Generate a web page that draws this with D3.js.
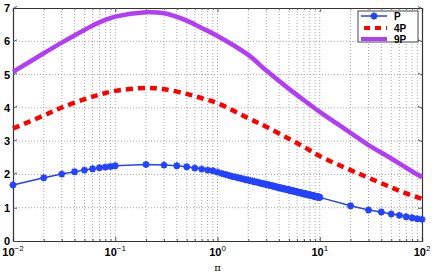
<!DOCTYPE html>
<html>
<head>
<meta charset="utf-8">
<script src="https://cdn.jsdelivr.net/npm/d3@7"></script>
<style>
  body { margin: 0; background: #fff; }
  svg text { font-family: "Liberation Sans", Arial, sans-serif; }
</style>
</head>
<body>
<div class="graph"></div>
<script>
/*--------------- DATA -------------*/

// P series (asterisk markers), x = pi
const xP = [0.01, 0.02, 0.03, 0.04, 0.05, 0.06, 0.07, 0.08, 0.09, 0.1,
  0.2, 0.3, 0.4, 0.5, 0.6, 0.7, 0.8, 0.9,
  1.0, 1.1, 1.2, 1.3, 1.4, 1.5, 1.6, 1.7, 1.8, 1.9,
  2.0, 2.1, 2.2, 2.3, 2.4, 2.5, 2.6, 2.7, 2.8, 2.9,
  3.0, 3.1, 3.2, 3.3, 3.4, 3.5, 3.6, 3.7, 3.8, 3.9,
  4.0, 4.1, 4.2, 4.3, 4.4, 4.5, 4.6, 4.7, 4.8, 4.9,
  5.0, 5.1, 5.2, 5.3, 5.4, 5.5, 5.6, 5.7, 5.8, 5.9,
  6.0, 6.1, 6.2, 6.3, 6.4, 6.5, 6.6, 6.7, 6.8, 6.9,
  7.0, 7.1, 7.2, 7.3, 7.4, 7.5, 7.6, 7.7, 7.8, 7.9,
  8.0, 8.1, 8.2, 8.3, 8.4, 8.5, 8.6, 8.7, 8.8, 8.9,
  9.0, 9.1, 9.2, 9.3, 9.4, 9.5, 9.6, 9.7, 9.8, 9.9,
  10, 20, 30, 40, 50, 60, 70, 80, 90, 100];
const yP = [1.68, 1.90, 2.01, 2.08, 2.13, 2.17, 2.20, 2.22, 2.24, 2.26,
  2.30, 2.28, 2.26, 2.23, 2.19, 2.16, 2.13, 2.11,
  2.07, 2.03, 2.00, 1.97, 1.94, 1.92, 1.90, 1.88, 1.86, 1.84,
  1.83, 1.81, 1.80, 1.78, 1.77, 1.76, 1.74, 1.73, 1.72, 1.71,
  1.70, 1.69, 1.68, 1.67, 1.66, 1.65, 1.64, 1.63, 1.62, 1.61,
  1.60, 1.60, 1.59, 1.58, 1.57, 1.57, 1.56, 1.55, 1.55, 1.54,
  1.53, 1.53, 1.52, 1.51, 1.51, 1.50, 1.50, 1.49, 1.49, 1.48,
  1.47, 1.47, 1.46, 1.46, 1.45, 1.45, 1.44, 1.44, 1.43, 1.43,
  1.42, 1.42, 1.42, 1.41, 1.41, 1.40, 1.40, 1.39, 1.39, 1.39,
  1.38, 1.38, 1.37, 1.37, 1.37, 1.36, 1.36, 1.35, 1.35, 1.35,
  1.34, 1.34, 1.34, 1.33, 1.33, 1.33, 1.32, 1.32, 1.32, 1.31,
  1.31, 1.06, 0.93, 0.87, 0.81, 0.77, 0.73, 0.70, 0.67, 0.65];

// 4P and 9P series (smooth lines)
const xLine = [0.01, 0.02, 0.03, 0.05, 0.07, 0.1, 0.2, 0.3, 0.5, 0.7,
  1, 2, 3, 5, 7, 10, 20, 30, 50, 70, 100];
const y4P = [3.38, 3.77, 4.01, 4.26, 4.40, 4.51, 4.60, 4.56, 4.42, 4.29,
  4.14, 3.69, 3.43, 3.07, 2.83, 2.55, 2.13, 1.90, 1.61, 1.43, 1.27];
const y9P = [5.08, 5.64, 5.96, 6.34, 6.57, 6.74, 6.87, 6.84, 6.62, 6.40,
  6.16, 5.59, 5.12, 4.57, 4.23, 3.88, 3.25, 2.88, 2.48, 2.20, 1.91];

const legendLabels = ["P", "4P", "9P"];
const yTicks = [0, 1, 2, 3, 4, 5, 6, 7];
const xDecades = [-2, -1, 0, 1, 2];

/*--------------- D3 STUFF -------------*/

const SIZE = {X: 436, Y: 273};
const MARGIN = {TOP: 8, BOTTOM: 32, LEFT: 13, RIGHT: 14};
const DIM = {WIDTH: SIZE.X - MARGIN.LEFT - MARGIN.RIGHT,
             HEIGHT: SIZE.Y - MARGIN.TOP - MARGIN.BOTTOM};

const COLORS = {P: "#2343ff", P4: "#ff0000", P9: "#b33cf7"};

const svg = d3.select(".graph").append("svg")
    .attr("width", SIZE.X)
    .attr("height", SIZE.Y);

const graph = svg.append("g")
    .attr("transform", `translate(${MARGIN.LEFT}, ${MARGIN.TOP})`);

const x = d3.scaleLog().domain([0.01, 100]).range([0, DIM.WIDTH]);
const y = d3.scaleLinear().domain([0, 7]).range([DIM.HEIGHT, 0]);

// all log ticks (1..9 per decade)
const xMinor = [];
xDecades.slice(0, -1).forEach(e => {
    for (let k = 1; k <= 9; k++) xMinor.push(k * Math.pow(10, e));
});
xMinor.push(100);

//grid lines
graph.append("g")
    .selectAll("line")
    .data(xMinor.filter(v => v > 0.01 && v < 100))
    .enter().append("line")
    .attr("x1", d => x(d)).attr("x2", d => x(d))
    .attr("y1", 0).attr("y2", DIM.HEIGHT)
    .attr("stroke", "#a8a8a8")
    .attr("stroke-width", 1)
    .attr("stroke-dasharray", "1,2");

graph.append("g")
    .selectAll("line")
    .data(yTicks.filter(v => v > 0 && v < 7))
    .enter().append("line")
    .attr("x1", 0).attr("x2", DIM.WIDTH)
    .attr("y1", d => y(d)).attr("y2", d => y(d))
    .attr("stroke", "#a8a8a8")
    .attr("stroke-width", 1)
    .attr("stroke-dasharray", "1,2");

//axes with inward ticks
const xAxisCall = d3.axisBottom(x).tickValues(xMinor).tickSize(-4).tickFormat("");
const xAxisTop = d3.axisTop(x).tickValues(xMinor).tickSize(-4).tickFormat("");
const yAxisCall = d3.axisLeft(y).tickValues(yTicks).tickSize(-4).tickFormat("");
const yAxisRight = d3.axisRight(y).tickValues(yTicks).tickSize(-4).tickFormat("");

[graph.append("g").attr("transform", `translate(0, ${DIM.HEIGHT})`).call(xAxisCall),
 graph.append("g").call(xAxisTop),
 graph.append("g").call(yAxisCall),
 graph.append("g").attr("transform", `translate(${DIM.WIDTH}, 0)`).call(yAxisRight)]
    .forEach(a => {
        a.selectAll("path").attr("stroke", "#333").attr("stroke-width", 1.2);
        a.selectAll("line").attr("stroke", "#555");
    });

//minor ticks shorter
graph.selectAll(".tick line")
    .filter(function(d) { return xMinor.includes(d) && Math.abs(Math.log10(d) % 1) > 1e-6; })
    .attr("y2", function() { return +d3.select(this).attr("y2") > 0 ? 2 : -2; });

//tick labels
graph.append("g")
    .selectAll("text")
    .data(yTicks)
    .enter().append("text")
    .attr("x", -3)
    .attr("y", d => y(d) + 4)
    .attr("text-anchor", "end")
    .attr("font-size", 11)
    .attr("font-weight", "bold")
    .text(d => d);

const xLab = graph.append("g")
    .selectAll("text")
    .data(xDecades)
    .enter().append("text")
    .attr("x", d => x(Math.pow(10, d)))
    .attr("y", DIM.HEIGHT + 15)
    .attr("text-anchor", "middle")
    .attr("font-size", 11)
    .attr("font-weight", "bold");
xLab.append("tspan").text("10");
xLab.append("tspan")
    .attr("dy", -5)
    .attr("font-size", 8)
    .attr("font-weight", "normal")
    .text(d => d < 0 ? "\u2212" + Math.abs(d) : d);

//axis title
graph.append("text")
    .attr("x", x(1))
    .attr("y", DIM.HEIGHT + 30)
    .attr("text-anchor", "middle")
    .attr("font-size", 10)
    .style("font-family", "'DejaVu Serif', serif")
    .text("\u03c0");

//lines
const lineP = d3.line().x(d => x(d[0])).y(d => y(d[1]));
const lineSmooth = d3.line().x(d => x(d[0])).y(d => y(d[1])).curve(d3.curveCatmullRom.alpha(0.5));

const plot = graph.append("g");

plot.append("path")
    .datum(xLine.map((v, i) => [v, y9P[i]]))
    .attr("d", lineSmooth)
    .attr("fill", "none")
    .attr("stroke", COLORS.P9)
    .attr("stroke-width", 4.5);

plot.append("path")
    .datum(xLine.map((v, i) => [v, y4P[i]]))
    .attr("d", lineSmooth)
    .attr("fill", "none")
    .attr("stroke", COLORS.P4)
    .attr("stroke-width", 4.5)
    .attr("stroke-dasharray", "7,5");

const dataP = xP.map((v, i) => [v, yP[i]]);
plot.append("path")
    .datum(dataP)
    .attr("d", lineP)
    .attr("fill", "none")
    .attr("stroke", COLORS.P)
    .attr("stroke-width", 1.5);

const star = "M-3.5,0H3.5M0,-3.5V3.5M-2.5,-2.5L2.5,2.5M-2.5,2.5L2.5,-2.5";
plot.selectAll(".mk")
    .data(dataP)
    .enter().append("path")
    .attr("class", "mk")
    .attr("transform", d => `translate(${x(d[0])}, ${y(d[1])})`)
    .attr("d", star)
    .attr("stroke", COLORS.P)
    .attr("stroke-width", 2)
    .attr("fill", "none");

// Legend
const legend = svg.append("g").attr("transform", "translate(358, 11)");
legend.append("rect")
    .attr("width", 60).attr("height", 31)
    .attr("fill", "#fff")
    .attr("stroke", "#444")
    .attr("stroke-width", 1);

const legY = [5, 17, 28];
const legStyle = [
    {c: COLORS.P, w: 1.5, dash: null},
    {c: COLORS.P4, w: 4, dash: "6,5"},
    {c: COLORS.P9, w: 4, dash: null}];

legendLabels.forEach((lab, i) => {
    const s = legStyle[i];
    legend.append("line")
        .attr("x1", i === 1 ? 6 : 3).attr("x2", 29)
        .attr("y1", legY[i]).attr("y2", legY[i])
        .attr("stroke", s.c)
        .attr("stroke-width", s.w)
        .attr("stroke-dasharray", s.dash);
    if (i === 0) {
        legend.append("path")
            .attr("transform", `translate(16, ${legY[i]})`)
            .attr("d", star)
            .attr("stroke", s.c)
            .attr("stroke-width", 2);
    }
    legend.append("text")
        .attr("x", 36)
        .attr("y", legY[i] + 4)
        .attr("font-size", 10)
        .attr("font-weight", "bold")
        .text(lab);
});
</script>
</body>
</html>
